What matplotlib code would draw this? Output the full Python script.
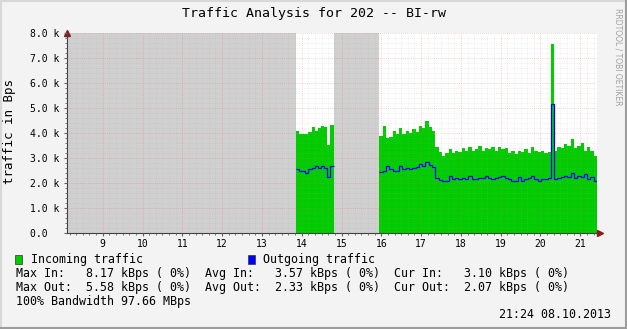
import numpy as np
import matplotlib
matplotlib.use("Agg")
import matplotlib.pyplot as plt
from matplotlib.patches import Rectangle
from matplotlib.lines import Line2D

# -----------------------------
# Data (kBps, 5-minute samples)
# -----------------------------
# first block of known data (hour of day)
seg1_start, seg1_end = 13.856, 14.80
in1 = [4.10, 3.98, 3.95, 3.98, 4.05, 4.25, 4.10, 4.20, 4.28, 4.25, 3.52, 4.32]
out1 = [2.55, 2.50, 2.48, 2.42, 2.55, 2.62, 2.70, 2.62, 2.70, 2.60, 2.25, 2.70]

# second block, up to the graph end (21:24)
seg2_start, seg2_end = 15.95, 21.42
in2 = [3.90, 4.30, 3.80, 3.85, 4.08, 3.95, 4.20, 3.95, 4.10, 4.00, 4.15, 4.05,
       4.30, 4.20, 4.50, 4.25, 4.10,
       3.45, 3.25, 3.10, 3.20, 3.35, 3.20, 3.30, 3.25, 3.40, 3.30, 3.45, 3.30,
       3.35, 3.50, 3.30, 3.40, 3.35, 3.45, 3.30, 3.45, 3.35, 3.40, 3.20, 3.30,
       3.15, 3.30, 3.25, 3.35, 3.20, 3.45, 3.30, 3.25, 3.30, 3.20, 3.25,
       7.55,
       3.30, 3.45, 3.40, 3.55, 3.50, 3.75, 3.40, 3.50, 3.60, 3.30, 3.45, 3.30, 3.10]
out2 = [2.45, 2.50, 2.70, 2.55, 2.50, 2.50, 2.70, 2.55, 2.60, 2.55, 2.62, 2.65,
        2.75, 2.70, 2.85, 2.72, 2.65,
        2.22, 2.12, 2.10, 2.10, 2.28, 2.15, 2.20, 2.15, 2.20, 2.18, 2.30, 2.15,
        2.15, 2.20, 2.20, 2.30, 2.20, 2.15, 2.20, 2.25, 2.30, 2.20, 2.15, 2.10,
        2.10, 2.25, 2.10, 2.15, 2.20, 2.30, 2.15, 2.10, 2.15, 2.18, 2.20,
        5.15,
        2.15, 2.20, 2.25, 2.30, 2.25, 2.40, 2.20, 2.30, 2.25, 2.35, 2.15, 2.25, 2.07]

x_start, x_end = 8.095, 21.42
hour_ticks = list(range(9, 22))
y_ticks = [0, 1000, 2000, 3000, 4000, 5000, 6000, 7000, 8000]
y_labels = ["0.0  ", "1.0 k", "2.0 k", "3.0 k", "4.0 k", "5.0 k", "6.0 k", "7.0 k", "8.0 k"]

title = "Traffic Analysis for 202 -- BI-rw"
stats_lines = [
    "Max In:   8.17 kBps ( 0%)  Avg In:   3.57 kBps ( 0%)  Cur In:   3.10 kBps ( 0%)",
    "Max Out:  5.58 kBps ( 0%)  Avg Out:  2.33 kBps ( 0%)  Cur Out:  2.07 kBps ( 0%)",
    "100% Bandwidth 97.66 MBps",
]
stamp = "21:24 08.10.2013"

# -----------------------------
# Figure setup
# -----------------------------
W, H = 627, 329
MONO = "DejaVu Sans Mono"
BG = "#f3f3f3"
GREEN = "#00cc00"
BLUE = "#0000ff"

fig = plt.figure(figsize=(W / 100, H / 100), dpi=100, facecolor=BG)


def fx(px):
    return px / W


def fy(py):
    return 1 - py / H


ax = fig.add_axes([fx(66.7), fy(233), fx(597) - fx(66.7), (233 - 33) / H])
ax.set_facecolor("white")

# unknown data (gray)
ax.axvspan(x_start, seg1_start, color="#d0d0d0", lw=0)
ax.axvspan(seg1_end, seg2_start, color="#d0d0d0", lw=0)

# traffic
for start, end, vin, vout in [(seg1_start, seg1_end, in1, out1),
                              (seg2_start, seg2_end, in2, out2)]:
    edges = np.linspace(start, end, len(vin) + 1)
    ax.stairs(np.array(vin) * 1000, edges, fill=True, color=GREEN, lw=0, baseline=0)
    ax.stairs(np.array(vout) * 1000, edges, baseline=None, color=BLUE, lw=0.9, zorder=3)

ax.set_xlim(x_start, x_end)
ax.set_ylim(0, 8000)

ax.set_xticks(hour_ticks)
ax.set_xticklabels([str(h) for h in hour_ticks], family=MONO, fontsize=7)
ax.set_xticks(np.arange(8 + 1 / 6, x_end, 1 / 6), minor=True)
ax.set_yticks(y_ticks)
ax.set_yticklabels(y_labels, family=MONO, fontsize=7)
ax.set_yticks(np.arange(200, 8000, 200), minor=True)
for lbl in ax.get_yticklabels():
    lbl.set_horizontalalignment("left")

ax.tick_params(axis="x", which="both", direction="out", length=2, pad=2, color="#606060")
ax.tick_params(axis="y", which="both", direction="out", length=2, pad=24.5, color="#606060")
ax.tick_params(which="minor", length=1.2)

ax.set_axisbelow(False)
ax.grid(which="major", color="#e07070", linestyle=(0, (1, 2)), lw=0.5, alpha=0.6)
ax.grid(which="minor", color="#a8a8a8", linestyle=(0, (1, 2)), lw=0.4, alpha=0.45)

for s in ["top", "right"]:
    ax.spines[s].set_visible(False)
for s in ["left", "bottom"]:
    ax.spines[s].set_color("#404040")
    ax.spines[s].set_linewidth(0.8)

# axis arrows
ax.plot([0], [1], marker="^", color="#8b1a1a", ms=4, transform=ax.transAxes, clip_on=False)
ax.plot([1.005], [0], marker=">", color="#8b1a1a", ms=4, transform=ax.transAxes, clip_on=False)

# -----------------------------
# Texts
# -----------------------------
fig.text(fx(313.5), fy(13), title, family=MONO, fontsize=9.5, ha="center", va="center")
fig.text(fx(10), fy(132), "traffic in Bps", family=MONO, fontsize=9, rotation=90,
         ha="center", va="center")
fig.text(fx(618), fy(8), "RRDTOOL / TOBI OETIKER", family="DejaVu Sans", fontsize=5.5,
         rotation=270, ha="center", va="top", color="#a0a0a0")

# legend
fig.add_artist(Rectangle((fx(15), fy(264)), 7 / W, 9 / H, transform=fig.transFigure,
                         facecolor=GREEN, edgecolor="#333333", lw=0.5))
fig.text(fx(31), fy(259.3), "Incoming traffic", family=MONO, fontsize=8.4, va="center")
fig.add_artist(Rectangle((fx(248), fy(264)), 7 / W, 9 / H, transform=fig.transFigure,
                         facecolor=BLUE, edgecolor="#333333", lw=0.5))
fig.text(fx(263), fy(259.3), "Outgoing traffic", family=MONO, fontsize=8.4, va="center")

for i, line in enumerate(stats_lines):
    fig.text(fx(16.5), fy(273.3 + 14 * i), line, family=MONO, fontsize=8.4, va="center")
fig.text(fx(611), fy(315), stamp, family=MONO, fontsize=8.4, ha="right", va="center")

# 3D-ish frame
fig.add_artist(Line2D([0, 1], [fy(1), fy(1)], transform=fig.transFigure, color="#d8d8d8", lw=1.5))
fig.add_artist(Line2D([fx(1), fx(1)], [0, 1], transform=fig.transFigure, color="#d8d8d8", lw=1.5))
fig.add_artist(Line2D([0, 1], [fy(327.5), fy(327.5)], transform=fig.transFigure, color="#9c9c9c", lw=2.2))
fig.add_artist(Line2D([fx(625.5), fx(625.5)], [0, 1], transform=fig.transFigure, color="#9c9c9c", lw=2.2))

fig.savefig("out.png", dpi=100, facecolor=BG)
